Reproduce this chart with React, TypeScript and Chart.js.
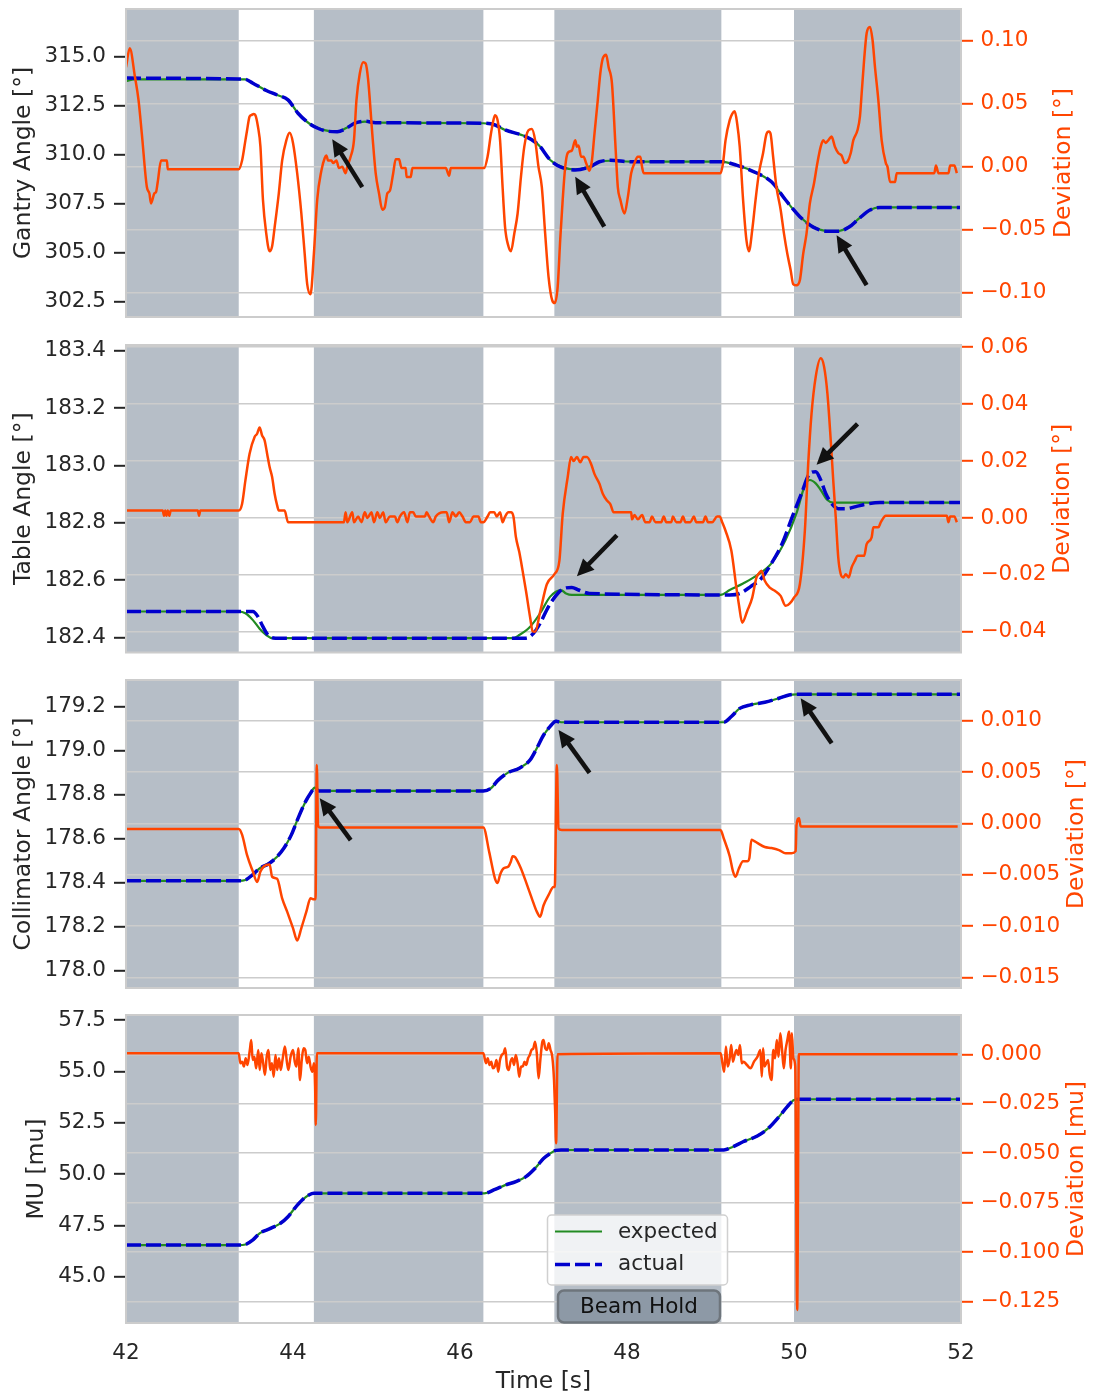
import React, { useEffect, useRef } from "react";
import { Chart, registerables } from "chart.js";

Chart.register(...registerables);

type P = [number, number];

const FONT = "'DejaVu Sans', 'Liberation Sans', sans-serif";
const ORANGE = "#FF4500";
const GREEN = "#228B22";
const BLUE = "#0000CD";
const DARK = "#262626";
const BAND = "#B6BEC7";
const GRID = "#CCCCCC";

// ---------- shared x data ----------
const xTicks = [42, 44, 46, 48, 50, 52];
const beamHoldBands: P[] = [[42, 43.35], [44.25, 46.28], [47.13, 49.13], [50.0, 52]];

// ---------- Panel 1: Gantry ----------
const gantryLeftTicks = [302.5, 305, 307.5, 310, 312.5, 315];
const gantryRightTicks = [-0.1, -0.05, 0, 0.05, 0.1];
const gantryExpected: P[] = [[42,313.75],[42.1,313.84],[43.35,313.84],[43.43,313.84],[43.52,313.64],[43.68,313.27],[43.81,313.04],[43.94,312.79],[44.06,312.11],[44.19,311.60],[44.31,311.34],[44.42,311.21],[44.53,311.17],[44.63,311.34],[44.74,311.60],[44.86,311.68],[44.99,311.63],[46.28,311.60],[46.42,311.51],[46.54,311.26],[46.79,310.92],[46.92,310.58],[46.96,310.41],[47.08,309.73],[47.21,309.39],[47.38,309.25],[47.55,309.39],[47.67,309.64],[47.80,309.69],[48.05,309.64],[49.12,309.64],[49.31,309.47],[49.56,309.05],[49.73,308.62],[49.90,307.69],[50.07,306.84],[50.23,306.33],[50.40,306.12],[50.53,306.12],[50.66,306.33],[50.78,306.75],[50.91,307.18],[51.03,307.31],[52,307.31]];
const gantryActual: P[] = [[42,313.90],[43.35,313.86],[43.43,313.84],[43.52,313.64],[43.68,313.27],[43.81,313.04],[43.94,312.79],[44.06,312.11],[44.19,311.60],[44.31,311.32],[44.42,311.19],[44.53,311.17],[44.63,311.32],[44.74,311.60],[44.86,311.70],[44.99,311.63],[46.28,311.60],[46.42,311.51],[46.54,311.26],[46.79,310.92],[46.92,310.58],[46.96,310.41],[47.08,309.73],[47.21,309.36],[47.38,309.22],[47.55,309.37],[47.67,309.64],[47.80,309.71],[48.05,309.64],[49.12,309.64],[49.31,309.47],[49.56,309.05],[49.73,308.62],[49.90,307.69],[50.07,306.84],[50.23,306.31],[50.40,306.10],[50.53,306.10],[50.66,306.31],[50.78,306.75],[50.91,307.18],[51.03,307.31],[52,307.31]];
const gantryDeviation: P[] = [[42.0,0.079],[42.045,0.094],[42.108,0.071],[42.15,0.053],[42.19,0.026],[42.25,-0.016],[42.28,-0.021],[42.30,-0.029],[42.34,-0.021],[42.36,-0.020],[42.38,-0.012],[42.42,0.005],[42.49,0.005],[42.50,-0.002],[43.35,-0.002],[43.39,0.005],[43.43,0.021],[43.45,0.029],[43.48,0.040],[43.50,0.041],[43.53,0.042],[43.55,0.041],[43.58,0.032],[43.61,0.016],[43.64,-0.026],[43.68,-0.053],[43.72,-0.067],[43.75,-0.063],[43.78,-0.048],[43.83,-0.021],[43.87,0.005],[43.92,0.021],[43.96,0.027],[44.0,0.019],[44.05,-0.005],[44.10,-0.037],[44.14,-0.069],[44.17,-0.093],[44.21,-0.101],[44.25,-0.069],[44.29,-0.026],[44.34,-0.003],[44.38,0.007],[44.40,0.009],[44.42,0.005],[44.46,0.005],[44.48,0.003],[44.52,0.005],[44.55,-0.001],[44.59,0.0],[44.63,-0.005],[44.65,0.0],[44.69,0.008],[44.73,0.021],[44.76,0.053],[44.80,0.074],[44.84,0.083],[44.87,0.082],[44.90,0.069],[44.95,0.026],[44.99,-0.005],[45.03,-0.021],[45.07,-0.034],[45.10,-0.032],[45.13,-0.021],[45.16,-0.019],[45.20,-0.005],[45.23,0.006],[45.27,0.006],[45.30,-0.001],[45.35,-0.001],[45.36,-0.008],[45.41,-0.008],[45.43,-0.001],[45.83,-0.001],[45.87,-0.007],[45.89,-0.001],[46.29,-0.001],[46.33,0.008],[46.37,0.026],[46.40,0.037],[46.42,0.041],[46.45,0.037],[46.48,0.021],[46.51,-0.016],[46.54,-0.048],[46.58,-0.063],[46.61,-0.067],[46.65,-0.053],[46.69,-0.037],[46.73,-0.008],[46.77,0.016],[46.82,0.029],[46.86,0.030],[46.90,0.021],[46.94,0.0],[46.98,-0.016],[47.02,-0.053],[47.06,-0.087],[47.105,-0.106],[47.135,-0.108],[47.17,-0.095],[47.20,-0.058],[47.23,-0.026],[47.26,0.0],[47.29,0.011],[47.34,0.013],[47.38,0.021],[47.40,0.016],[47.42,0.017],[47.45,0.008],[47.48,0.008],[47.51,0.003],[47.55,-0.003],[47.58,0.005],[47.61,0.026],[47.65,0.053],[47.68,0.074],[47.71,0.086],[47.75,0.089],[47.78,0.079],[47.82,0.066],[47.86,0.019],[47.89,-0.016],[47.92,-0.026],[47.97,-0.037],[48.01,-0.024],[48.05,-0.005],[48.09,0.003],[48.13,0.008],[48.16,0.008],[48.18,0.0],[48.20,-0.005],[49.12,-0.005],[49.15,0.003],[49.18,0.021],[49.23,0.037],[49.26,0.042],[49.29,0.044],[49.32,0.034],[49.35,0.016],[49.39,-0.026],[49.43,-0.058],[49.46,-0.067],[49.50,-0.050],[49.54,-0.026],[49.58,-0.005],[49.63,0.011],[49.67,0.026],[49.70,0.028],[49.72,0.026],[49.75,0.008],[49.79,-0.016],[49.84,-0.034],[49.88,-0.053],[49.92,-0.069],[49.96,-0.082],[49.99,-0.093],[50.03,-0.094],[50.07,-0.090],[50.11,-0.069],[50.15,-0.053],[50.19,-0.029],[50.24,-0.013],[50.28,0.003],[50.32,0.016],[50.35,0.021],[50.38,0.019],[50.41,0.021],[50.45,0.024],[50.49,0.016],[50.53,0.011],[50.57,0.009],[50.61,0.003],[50.64,0.004],[50.68,0.011],[50.71,0.021],[50.76,0.029],[50.79,0.040],[50.81,0.058],[50.84,0.085],[50.87,0.106],[50.91,0.111],[50.94,0.101],[50.97,0.079],[51.01,0.053],[51.05,0.021],[51.10,0.003],[51.12,0.0],[51.15,-0.012],[51.21,-0.012],[51.23,-0.005],[51.68,-0.005],[51.70,0.001],[51.73,-0.005],[51.85,-0.005],[51.87,0.001],[51.92,0.001],[51.95,-0.005]];
const gantryArrowTips: P[] = [[44.47, 310.79], [47.38, 308.88], [50.51, 305.90]];

// ---------- Panel 2: Table ----------
const tableLeftTicks = [182.4, 182.6, 182.8, 183.0, 183.2, 183.4];
const tableRightTicks = [-0.04, -0.02, 0, 0.02, 0.04, 0.06];
const tableExpected: P[] = [[42,182.49],[43.35,182.49],[43.43,182.484],[43.52,182.46],[43.60,182.43],[43.68,182.408],[43.75,182.397],[46.63,182.397],[46.71,182.408],[46.84,182.437],[46.96,182.484],[47.08,182.542],[47.21,182.565],[47.27,182.553],[47.34,182.548],[49.12,182.548],[49.23,182.565],[49.39,182.588],[49.56,182.617],[49.73,182.658],[49.90,182.74],[50.03,182.833],[50.13,182.93],[50.19,182.949],[50.26,182.937],[50.32,182.914],[50.40,182.879],[50.47,182.87],[52,182.87]];
const tableActual: P[] = [[42,182.49],[43.52,182.49],[43.58,182.472],[43.64,182.437],[43.70,182.408],[43.79,182.397],[46.79,182.397],[46.88,182.414],[46.96,182.449],[47.06,182.507],[47.17,182.553],[47.25,182.571],[47.34,182.574],[47.42,182.565],[47.55,182.553],[49.23,182.548],[49.35,182.553],[49.48,182.577],[49.61,182.606],[49.73,182.658],[49.86,182.728],[49.98,182.821],[50.09,182.902],[50.19,182.972],[50.26,182.978],[50.32,182.949],[50.38,182.902],[50.45,182.867],[50.53,182.849],[50.63,182.849],[50.74,182.856],[50.87,182.865],[51.03,182.87],[52,182.87]];
const tableDeviation: P[] = [[42.01,0.0026],[42.44,0.0026],[42.455,0.0008],[42.47,0.0026],[42.485,0.0008],[42.50,0.0026],[42.52,0.0008],[42.535,0.0026],[42.86,0.0026],[42.875,0.0008],[42.89,0.0026],[43.35,0.0026],[43.39,0.0049],[43.43,0.0132],[43.48,0.0226],[43.54,0.0285],[43.57,0.0296],[43.60,0.0318],[43.63,0.029],[43.66,0.0273],[43.69,0.0226],[43.72,0.0179],[43.75,0.0144],[43.78,0.0085],[43.81,0.0044],[43.83,0.0026],[43.90,0.0026],[43.94,-0.0015],[44.61,-0.0015],[44.63,0.002],[44.65,-0.0015],[44.71,0.002],[44.73,-0.0015],[44.78,0.0005],[44.82,-0.0015],[44.86,0.002],[44.89,0.0],[44.94,0.002],[44.97,-0.0015],[45.01,0.002],[45.04,0.0],[45.08,0.002],[45.11,-0.0015],[45.16,0.0005],[45.22,0.0005],[45.25,-0.0015],[45.28,0.0005],[45.33,0.002],[45.37,-0.0015],[45.40,0.002],[45.44,0.002],[45.47,0.0005],[45.58,0.0005],[45.60,0.002],[45.63,0.0005],[45.68,-0.0015],[45.71,0.0005],[45.80,0.002],[45.84,0.002],[45.87,-0.0015],[45.91,0.002],[45.95,0.0005],[45.99,0.002],[46.03,0.0005],[46.07,-0.0015],[46.12,-0.0015],[46.16,0.0005],[46.22,0.0005],[46.25,-0.0015],[46.28,-0.0015],[46.33,0.0005],[46.36,0.002],[46.41,0.002],[46.44,0.0005],[46.48,0.002],[46.51,-0.0015],[46.54,0.0005],[46.58,0.002],[46.61,0.002],[46.64,0.0005],[46.67,-0.0068],[46.71,-0.012],[46.75,-0.0186],[46.79,-0.0256],[46.84,-0.035],[46.87,-0.0398],[46.90,-0.040],[46.96,-0.033],[47.04,-0.0233],[47.13,-0.0198],[47.19,-0.0151],[47.23,0.0014],[47.29,0.0144],[47.33,0.0214],[47.36,0.020],[47.40,0.0214],[47.44,0.0196],[47.48,0.0214],[47.52,0.0214],[47.57,0.019],[47.61,0.0155],[47.67,0.012],[47.71,0.0085],[47.76,0.0061],[47.80,0.0049],[47.84,0.002],[48.05,0.002],[48.06,-0.0005],[48.09,0.001],[48.13,-0.0005],[48.18,0.001],[48.22,-0.0015],[48.27,-0.0015],[48.30,0.0005],[48.34,-0.0015],[48.41,-0.0015],[48.44,0.0005],[48.47,-0.0015],[48.53,-0.0015],[48.55,0.0005],[48.59,-0.0015],[48.64,-0.0015],[48.67,0.0005],[48.70,-0.0015],[48.76,-0.0015],[48.80,0.0005],[48.83,-0.0015],[48.91,-0.0015],[48.94,0.0005],[48.97,-0.0015],[49.02,-0.0015],[49.08,0.0005],[49.11,0.0005],[49.14,-0.0015],[49.18,-0.0045],[49.25,-0.0115],[49.31,-0.0245],[49.34,-0.0304],[49.38,-0.0368],[49.44,-0.0327],[49.50,-0.028],[49.55,-0.021],[49.58,-0.0195],[49.61,-0.0186],[49.65,-0.0221],[49.71,-0.0245],[49.77,-0.0256],[49.84,-0.0274],[49.90,-0.0309],[49.95,-0.030],[50.0,-0.028],[50.07,-0.0233],[50.13,-0.0045],[50.17,0.019],[50.21,0.0367],[50.26,0.0496],[50.32,0.0561],[50.36,0.0532],[50.40,0.0438],[50.44,0.0273],[50.47,0.0132],[50.50,0.0002],[50.53,-0.0139],[50.56,-0.0198],[50.59,-0.0209],[50.62,-0.0198],[50.655,-0.0209],[50.69,-0.0174],[50.73,-0.015],[50.76,-0.0133],[50.84,-0.0133],[50.87,-0.0092],[50.93,-0.0068],[50.95,-0.0033],[51.01,-0.0033],[51.04,-0.0015],[51.10,0.0008],[51.83,0.0008],[51.85,-0.0015],[51.87,0.0005],[51.92,0.0005],[51.95,-0.0015]];
const tableArrowTips: P[] = [[47.40, 182.613], [50.27, 183.002]];

// ---------- Panel 3: Collimator ----------
const collLeftTicks = [178.0, 178.2, 178.4, 178.6, 178.8, 179.0, 179.2];
const collRightTicks = [-0.015, -0.01, -0.005, 0, 0.005, 0.01];
const collExpected: P[] = [[42,178.408],[43.35,178.408],[43.43,178.412],[43.52,178.435],[43.60,178.465],[43.71,178.488],[43.81,178.518],[43.89,178.556],[43.98,178.617],[44.06,178.692],[44.15,178.768],[44.21,178.806],[44.26,178.832],[44.31,178.817],[46.28,178.817],[46.37,178.829],[46.46,178.867],[46.58,178.901],[46.71,178.92],[46.84,178.958],[46.92,179.011],[47.0,179.07],[47.08,179.11],[47.15,179.135],[47.21,179.129],[49.16,179.129],[49.25,179.155],[49.35,179.192],[49.48,179.208],[49.65,179.22],[49.82,179.238],[49.94,179.253],[50.03,179.256],[52,179.256]];
const collActual: P[] = [[42,178.408],[43.35,178.408],[43.43,178.412],[43.52,178.437],[43.60,178.465],[43.71,178.486],[43.81,178.518],[43.89,178.556],[43.98,178.617],[44.06,178.692],[44.15,178.768],[44.21,178.806],[44.26,178.830],[44.31,178.817],[46.28,178.817],[46.37,178.829],[46.46,178.867],[46.58,178.901],[46.71,178.92],[46.84,178.958],[46.92,179.011],[47.0,179.07],[47.08,179.11],[47.15,179.133],[47.21,179.129],[49.16,179.129],[49.25,179.155],[49.35,179.192],[49.48,179.208],[49.65,179.22],[49.82,179.238],[49.94,179.253],[50.03,179.256],[52,179.256]];
const collDeviation: P[] = [[42.01,-0.00055],[43.35,-0.00055],[43.39,-0.0011],[43.45,-0.0031],[43.52,-0.0047],[43.57,-0.0057],[43.61,-0.0047],[43.65,-0.0042],[43.72,-0.004],[43.75,-0.0052],[43.81,-0.0054],[43.87,-0.0073],[43.93,-0.0086],[44.0,-0.0102],[44.05,-0.0114],[44.10,-0.0102],[44.16,-0.0086],[44.21,-0.0073],[44.25,-0.0074],[44.27,-0.0074],[44.285,0.0057],[44.30,-0.0002],[44.32,-0.0004],[46.28,-0.0004],[46.35,-0.0028],[46.42,-0.0054],[46.45,-0.0058],[46.48,-0.005],[46.52,-0.0044],[46.58,-0.0042],[46.61,-0.0037],[46.63,-0.0032],[46.66,-0.0033],[46.69,-0.0037],[46.73,-0.0044],[46.79,-0.0057],[46.86,-0.0073],[46.92,-0.0086],[46.96,-0.0091],[47.0,-0.008],[47.06,-0.007],[47.12,-0.0062],[47.135,-0.0062],[47.16,0.0057],[47.18,-0.0005],[47.22,-0.00065],[49.12,-0.00065],[49.16,-0.0015],[49.23,-0.0032],[49.27,-0.0047],[49.30,-0.0052],[49.34,-0.0044],[49.39,-0.0037],[49.44,-0.0037],[49.465,-0.0034],[49.49,-0.0016],[49.52,-0.0017],[49.56,-0.0019],[49.65,-0.0023],[49.73,-0.0024],[49.82,-0.0026],[49.90,-0.0029],[49.97,-0.0029],[50.02,-0.0027],[50.03,-0.0002],[50.06,0.0005],[50.08,-0.0003],[51.96,-0.0003]];
const collArrowTips: P[] = [[44.32, 178.784], [47.18, 179.094], [50.08, 179.238]];

// ---------- Panel 4: MU ----------
const muLeftTicks = [45.0, 47.5, 50.0, 52.5, 55.0, 57.5];
const muRightTicks = [-0.125, -0.1, -0.075, -0.05, -0.025, 0];
const muExpected: P[] = [[42,46.54],[43.35,46.54],[43.43,46.57],[43.52,46.79],[43.60,47.11],[43.73,47.35],[43.85,47.60],[43.94,47.92],[44.02,48.33],[44.11,48.73],[44.19,48.98],[44.25,49.06],[46.29,49.06],[46.42,49.25],[46.54,49.46],[46.67,49.63],[46.79,49.87],[46.90,50.28],[47.0,50.75],[47.08,51.0],[47.15,51.15],[47.21,51.17],[49.16,51.17],[49.27,51.33],[49.39,51.57],[49.56,51.85],[49.69,52.22],[49.82,52.79],[49.92,53.28],[50.0,53.60],[50.07,53.64],[52,53.64]];
const muActual: P[] = [[42,46.54],[43.35,46.54],[43.43,46.57],[43.52,46.79],[43.60,47.11],[43.73,47.35],[43.85,47.60],[43.94,47.92],[44.02,48.33],[44.11,48.73],[44.19,48.98],[44.25,49.06],[46.29,49.06],[46.42,49.25],[46.54,49.46],[46.67,49.63],[46.79,49.87],[46.90,50.28],[47.0,50.75],[47.08,51.0],[47.15,51.15],[47.21,51.17],[49.16,51.17],[49.27,51.33],[49.39,51.57],[49.56,51.85],[49.69,52.22],[49.82,52.79],[49.92,53.28],[50.0,53.60],[50.07,53.64],[52,53.64]];
const muDeviation: P[] = [[42.0,0.0005],[43.35,0.0005],[43.370,-0.0045],[43.391,-0.0037],[43.412,-0.0062],[43.433,-0.0020],[43.454,-0.0054],[43.483,0.0022],[43.500,0.0072],[43.517,-0.0029],[43.538,-0.0012],[43.559,-0.0071],[43.584,0.0022],[43.601,-0.0079],[43.622,0.0005],[43.643,-0.0045],[43.664,-0.0104],[43.685,-0.0012],[43.706,0.0022],[43.727,-0.0079],[43.748,-0.0045],[43.769,-0.0113],[43.790,-0.0003],[43.811,-0.0079],[43.832,-0.0020],[43.853,-0.0079],[43.874,-0.0029],[43.903,0.0039],[43.929,-0.0045],[43.945,-0.0079],[43.971,-0.0012],[44.000,0.0022],[44.021,-0.0037],[44.042,-0.0062],[44.063,0.0030],[44.084,-0.0130],[44.105,-0.0029],[44.126,0.0030],[44.147,0.0022],[44.168,-0.0045],[44.189,-0.0012],[44.210,-0.0062],[44.231,-0.0088],[44.252,-0.0045],[44.265,-0.0163],[44.273,-0.0357],[44.286,0.0005],[46.28,0.0005],[46.311,-0.0045],[46.332,-0.0020],[46.353,-0.0054],[46.374,-0.0037],[46.395,-0.0071],[46.416,-0.0062],[46.437,-0.0029],[46.458,-0.0088],[46.479,-0.0029],[46.500,-0.0003],[46.521,0.0005],[46.542,0.0030],[46.563,-0.0062],[46.584,-0.0079],[46.605,-0.0037],[46.626,-0.0020],[46.647,-0.0054],[46.668,-0.0003],[46.689,-0.0045],[46.710,-0.0113],[46.731,-0.0062],[46.752,-0.0062],[46.773,-0.0037],[46.794,-0.0054],[46.815,-0.0020],[46.836,-0.0003],[46.857,0.0022],[46.878,0.0030],[46.899,0.0064],[46.920,0.0005],[46.941,-0.0121],[46.962,-0.0029],[46.983,0.0056],[47.0,0.0072],[47.021,0.0030],[47.042,0.0022],[47.063,0.0056],[47.084,0.0022],[47.105,-0.0012],[47.126,-0.013],[47.139,-0.0281],[47.151,-0.045],[47.168,0.0],[49.122,0.0005],[49.143,-0.0045],[49.164,-0.0088],[49.185,0.0039],[49.206,-0.0062],[49.227,-0.0029],[49.248,0.0047],[49.269,-0.0037],[49.290,-0.0003],[49.311,0.0022],[49.332,-0.0003],[49.353,0.0047],[49.374,-0.0045],[49.395,-0.0037],[49.437,-0.0054],[49.479,-0.0071],[49.521,-0.0037],[49.563,-0.0012],[49.597,0.0022],[49.614,-0.0113],[49.630,0.003],[49.647,-0.0062],[49.668,-0.0045],[49.689,-0.0029],[49.710,-0.0104],[49.731,-0.013],[49.752,0.0022],[49.773,-0.002],[49.794,0.0072],[49.815,-0.0012],[49.836,0.0106],[49.857,0.0022],[49.878,-0.0071],[49.899,0.0022],[49.920,0.0072],[49.941,0.0115],[49.962,-0.0071],[49.975,0.0106],[49.992,-0.002],[50.015,-0.0062],[50.038,-0.1292],[50.058,0.0],[51.96,0.0]];

// ---------- layout (pixels, not data) ----------
const W = 1094;
const H = 1395;
const PLOT_LEFT = 126;
const PLOT_RIGHT = 961;

type AxisSpec = { min: number; max: number; ticks: number[]; dec: number };
type Spec = {
  key: string;
  top: number;
  bottom: number;
  yL: AxisSpec;
  yR: AxisSpec;
  leftTitle: string;
  rightTitle: string;
  leftTitleX: number;
  rightTitleX: number;
  expected: P[];
  actual: P[];
  deviation: P[];
  arrowTips: P[];
  arrowTails: P[];
  showX: boolean;
};

const panels: Spec[] = [
  {
    key: "gantry", top: 9, bottom: 317,
    yL: { min: 301.73, max: 317.42, ticks: gantryLeftTicks, dec: 1 },
    yR: { min: -0.1191, max: 0.1252, ticks: gantryRightTicks, dec: 2 },
    leftTitle: "Gantry Angle [°]", rightTitle: "Deviation [°]", leftTitleX: 24, rightTitleX: 1064,
    expected: gantryExpected, actual: gantryActual, deviation: gantryDeviation,
    arrowTips: gantryArrowTips, arrowTails: [[30, 48], [29, 50], [30, 50]], showX: false,
  },
  {
    key: "table", top: 345, bottom: 652.5,
    yL: { min: 182.347, max: 183.42, ticks: tableLeftTicks, dec: 1 },
    yR: { min: -0.0473, max: 0.0608, ticks: tableRightTicks, dec: 2 },
    leftTitle: "Table Angle [°]", rightTitle: "Deviation [°]", leftTitleX: 24, rightTitleX: 1063,
    expected: tableExpected, actual: tableActual, deviation: tableDeviation,
    arrowTips: tableArrowTips, arrowTails: [[40, -41], [41, -41]], showX: false,
  },
  {
    key: "coll", top: 680, bottom: 988,
    yL: { min: 177.921, max: 179.321, ticks: collLeftTicks, dec: 1 },
    yR: { min: -0.01604, max: 0.01397, ticks: collRightTicks, dec: 3 },
    leftTitle: "Collimator Angle [°]", rightTitle: "Deviation [°]", leftTitleX: 24, rightTitleX: 1077,
    expected: collExpected, actual: collActual, deviation: collDeviation,
    arrowTips: collArrowTips, arrowTails: [[31, 42], [31, 43], [31, 45]], showX: false,
  },
  {
    key: "mu", top: 1015, bottom: 1323,
    yL: { min: 42.745, max: 57.743, ticks: muLeftTicks, dec: 1 },
    yR: { min: -0.13576, max: 0.01986, ticks: muRightTicks, dec: 3 },
    leftTitle: "MU [mu]", rightTitle: "Deviation [mu]", leftTitleX: 37, rightTitleX: 1077,
    expected: muExpected, actual: muActual, deviation: muDeviation,
    arrowTips: [], arrowTails: [], showX: true,
  },
];

const fmt = (v: number, dec: number) => {
  const s = Math.abs(v).toFixed(dec);
  return (v < 0 && Number(s) !== 0 ? "\u2212" : "") + s;
};

function roundRect(ctx: CanvasRenderingContext2D, x: number, y: number, w: number, h: number, r: number) {
  ctx.beginPath();
  ctx.moveTo(x + r, y);
  ctx.lineTo(x + w - r, y);
  ctx.arcTo(x + w, y, x + w, y + r, r);
  ctx.lineTo(x + w, y + h - r);
  ctx.arcTo(x + w, y + h, x + w - r, y + h, r);
  ctx.lineTo(x + r, y + h);
  ctx.arcTo(x, y + h, x, y + h - r, r);
  ctx.lineTo(x, y + r);
  ctx.arcTo(x, y, x + r, y, r);
  ctx.closePath();
}

function drawArrow(ctx: CanvasRenderingContext2D, tx: number, ty: number, sx: number, sy: number) {
  const ang = Math.atan2(ty - sy, tx - sx);
  const c = Math.cos(ang), s = Math.sin(ang);
  const headLen = 17, headHalf = 8;
  const bx = tx - headLen * c, by = ty - headLen * s;
  ctx.save();
  ctx.strokeStyle = "#111";
  ctx.fillStyle = "#111";
  ctx.lineWidth = 4.5;
  ctx.lineCap = "butt";
  ctx.beginPath();
  ctx.moveTo(sx, sy);
  ctx.lineTo(bx + 2 * c, by + 2 * s);
  ctx.stroke();
  ctx.beginPath();
  ctx.moveTo(tx, ty);
  ctx.lineTo(bx - s * headHalf, by + c * headHalf);
  ctx.lineTo(bx + s * headHalf, by - c * headHalf);
  ctx.closePath();
  ctx.fill();
  ctx.restore();
}

function drawVText(ctx: CanvasRenderingContext2D, text: string, x: number, y: number, color: string) {
  ctx.save();
  ctx.translate(x, y);
  ctx.rotate(-Math.PI / 2);
  ctx.font = `23.5px ${FONT}`;
  ctx.fillStyle = color;
  ctx.textAlign = "center";
  ctx.textBaseline = "middle";
  ctx.fillText(text, 0, 0);
  ctx.restore();
}

function makeDecor(spec: Spec) {
  return {
    id: "decor_" + spec.key,
    beforeDraw(chart: any) {
      const { ctx, chartArea: a, scales } = chart;
      const x = scales.x;
      ctx.save();
      ctx.fillStyle = BAND;
      for (const [b0, b1] of beamHoldBands) {
        const p0 = x.getPixelForValue(b0);
        const p1 = x.getPixelForValue(b1);
        ctx.fillRect(p0, a.top, p1 - p0, a.bottom - a.top);
      }
      ctx.restore();
    },
    afterDatasetsDraw(chart: any) {
      const { ctx, chartArea: a, scales } = chart;
      spec.arrowTips.forEach(([t, v], i) => {
        const tx = scales.x.getPixelForValue(t);
        const ty = scales.yL.getPixelForValue(v);
        const [dx, dy] = spec.arrowTails[i];
        drawArrow(ctx, tx, ty, tx + dx, ty + dy);
      });
      ctx.save();
      ctx.strokeStyle = GRID;
      ctx.lineWidth = 2;
      ctx.strokeRect(a.left, a.top, a.right - a.left, a.bottom - a.top);
      ctx.restore();
    },
    afterDraw(chart: any) {
      const { ctx, chartArea: a } = chart;
      const cy = (a.top + a.bottom) / 2;
      drawVText(ctx, spec.leftTitle, spec.leftTitleX, cy, DARK);
      drawVText(ctx, spec.rightTitle, spec.rightTitleX, cy, ORANGE);
      if (spec.showX) {
        ctx.save();
        ctx.font = `23.5px ${FONT}`;
        ctx.fillStyle = DARK;
        ctx.textAlign = "center";
        ctx.textBaseline = "middle";
        ctx.fillText("Time [s]", (a.left + a.right) / 2, 1382);
        // legend
        roundRect(ctx, 547.5, 1215, 180, 70, 4);
        ctx.fillStyle = "rgba(255,255,255,0.8)";
        ctx.fill();
        ctx.strokeStyle = "#D0D0D0";
        ctx.lineWidth = 1.5;
        ctx.stroke();
        ctx.strokeStyle = GREEN;
        ctx.lineWidth = 2.2;
        ctx.beginPath();
        ctx.moveTo(555, 1231.5);
        ctx.lineTo(602, 1231.5);
        ctx.stroke();
        ctx.strokeStyle = BLUE;
        ctx.lineWidth = 3.5;
        ctx.setLineDash([15, 5]);
        ctx.beginPath();
        ctx.moveTo(555, 1264.5);
        ctx.lineTo(602, 1264.5);
        ctx.stroke();
        ctx.setLineDash([]);
        ctx.font = `21.5px ${FONT}`;
        ctx.fillStyle = DARK;
        ctx.textAlign = "left";
        ctx.fillText("expected", 618, 1232);
        ctx.fillText("actual", 618, 1264);
        // beam hold box
        roundRect(ctx, 558, 1290.5, 162, 32, 6);
        ctx.fillStyle = "#8D99A6";
        ctx.fill();
        ctx.strokeStyle = "#6E757C";
        ctx.lineWidth = 2.5;
        ctx.stroke();
        ctx.fillStyle = "#111";
        ctx.textAlign = "center";
        ctx.fillText("Beam Hold", 639, 1307);
        ctx.restore();
      }
    },
  };
}

function yAxis(ax: AxisSpec, side: "left" | "right", width: number) {
  const color = side === "left" ? DARK : ORANGE;
  return {
    type: "linear",
    position: side,
    min: ax.min,
    max: ax.max,
    afterBuildTicks: (scale: any) => {
      scale.ticks = ax.ticks.map((v) => ({ value: v }));
    },
    afterFit: (scale: any) => {
      scale.width = width;
      scale.paddingTop = 0;
      scale.paddingBottom = 0;
    },
    border: { display: false },
    grid: {
      display: true,
      drawOnChartArea: side === "right",
      drawTicks: true,
      color: GRID,
      lineWidth: 1.6,
      tickColor: color,
      tickLength: 12,
      tickWidth: 2,
    },
    ticks: {
      color,
      padding: side === "left" ? 8 : 7.5,
      font: { family: FONT, size: 21.5 },
      callback: (v: any) => fmt(Number(v), ax.dec),
    },
    title: { display: false },
  };
}

function Panel({ spec }: { spec: Spec }) {
  const ref = useRef<HTMLCanvasElement>(null);
  useEffect(() => {
    if (!ref.current) return;
    const toXY = (arr: P[]) => arr.map(([x, y]) => ({ x, y }));
    const chart = new Chart(ref.current, {
      type: "line",
      data: {
        datasets: [
          {
            label: "deviation",
            data: toXY(spec.deviation),
            yAxisID: "yR",
            borderColor: ORANGE,
            borderWidth: 2.5,
            pointRadius: 0,
            cubicInterpolationMode: "monotone",
            order: 0,
          },
          {
            label: "actual",
            data: toXY(spec.actual),
            yAxisID: "yL",
            borderColor: BLUE,
            borderWidth: 3.5,
            borderDash: [15, 5],
            pointRadius: 0,
            cubicInterpolationMode: "monotone",
            order: 1,
          },
          {
            label: "expected",
            data: toXY(spec.expected),
            yAxisID: "yL",
            borderColor: GREEN,
            borderWidth: 2.2,
            pointRadius: 0,
            cubicInterpolationMode: "monotone",
            order: 2,
          },
        ],
      } as any,
      options: {
        responsive: false,
        animation: false,
        events: [],
        layout: {
          padding: { top: spec.top, bottom: spec.showX ? 0 : H - spec.bottom, left: 0, right: 0 },
        },
        plugins: { legend: { display: false }, tooltip: { enabled: false } },
        scales: {
          x: {
            type: "linear",
            min: 42,
            max: 52,
            display: spec.showX,
            afterBuildTicks: (scale: any) => {
              scale.ticks = xTicks.map((v) => ({ value: v }));
            },
            afterFit: (scale: any) => {
              scale.height = spec.showX ? H - spec.bottom : 0;
            },
            border: { display: false },
            grid: { display: false },
            ticks: {
              color: DARK,
              padding: 10,
              font: { family: FONT, size: 21.5 },
              maxRotation: 0,
              callback: (v: any) => String(v),
            },
          },
          yL: yAxis(spec.yL, "left", PLOT_LEFT),
          yR: yAxis(spec.yR, "right", W - PLOT_RIGHT),
        } as any,
      },
      plugins: [makeDecor(spec)],
    });
    return () => chart.destroy();
  }, [spec]);
  return (
    <canvas
      ref={ref}
      width={W}
      height={H}
      style={{ position: "absolute", left: 0, top: 0, width: W, height: H }}
    />
  );
}

export default function App() {
  return (
    <div
      style={{
        position: "absolute",
        left: 0,
        top: 0,
        width: W,
        height: H,
        overflow: "hidden",
        background: "#ffffff",
      }}
    >
      {panels.map((p) => (
        <Panel key={p.key} spec={p} />
      ))}
    </div>
  );
}
